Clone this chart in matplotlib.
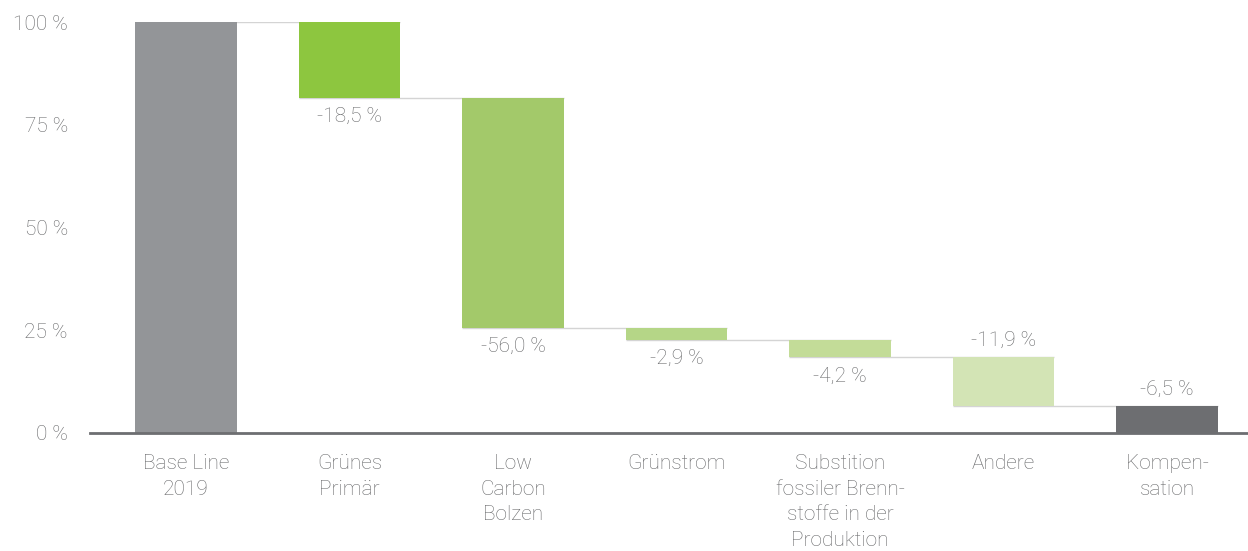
import matplotlib.pyplot as plt

# Daten
kategorien = ["Base Line\n2019", "Grünes\nPrimär", "Low\nCarbon\nBolzen", "Grünstrom",
              "Substition\nfossiler Brenn-\nstoffe in der\nProduktion", "Andere", "Kompen-\nsation"]
basis = 100.0
schritte = [-18.5, -56.0, -2.9, -4.2, -11.9, -6.5]
labels = ["-18,5 %", "-56,0 %", "-2,9 %", "-4,2 %", "-11,9 %", "-6,5 %"]
label_oben = [False, False, False, False, True, True]
farben = ["#939598", "#8dc63f", "#a3c96a", "#b5d687", "#c3dc98", "#d3e4b5", "#6d6e71"]
yticks = [0, 25, 50, 75, 100]

plt.rcParams['font.family'] = ['Roboto', 'DejaVu Sans']
plt.rcParams['font.weight'] = 'light'
txt = "#666769"
fs = 15

fig = plt.figure(figsize=(12.48, 5.51), dpi=100)
ax = fig.add_axes([90 / 1248, 118 / 551, 1158 / 1248, 411 / 551])

w = 0.622
# Basisbalken
ax.bar(0, basis, width=w, color=farben[0], zorder=3)
level = basis
for i, s in enumerate(schritte, start=1):
    neu = level + s
    ax.bar(i, -s, bottom=neu, width=w, color=farben[i], zorder=3)
    # Verbindungslinie
    ax.hlines(level, i - 1 - w / 2, i + w / 2, color="#d4d4d4", lw=1, zorder=2)
    if label_oben[i - 1]:
        ax.text(i, level + 1.8, labels[i - 1], ha="center", va="bottom", color=txt, fontsize=fs)
    else:
        ax.text(i, neu - 2.2, labels[i - 1], ha="center", va="top", color=txt, fontsize=fs)
    level = neu

ax.set_xlim(-0.587, 6.495)
ax.set_ylim(0, 100)
ax.set_yticks(yticks)
ax.set_yticklabels([f"{t} %" for t in yticks], color=txt, fontsize=fs)
ax.set_xticks(range(len(kategorien)))
ax.set_xticklabels(kategorien, color=txt, fontsize=fs, linespacing=1.45, va="top")
ax.tick_params(axis="both", length=0)
ax.tick_params(axis="x", pad=15)
ax.tick_params(axis="y", pad=16)
for sp in ["top", "right", "left"]:
    ax.spines[sp].set_visible(False)
ax.spines["bottom"].set_color("#6d6e71")
ax.spines["bottom"].set_linewidth(2)
ax.spines["bottom"].set_zorder(4)

fig.savefig("out.png", dpi=100)
